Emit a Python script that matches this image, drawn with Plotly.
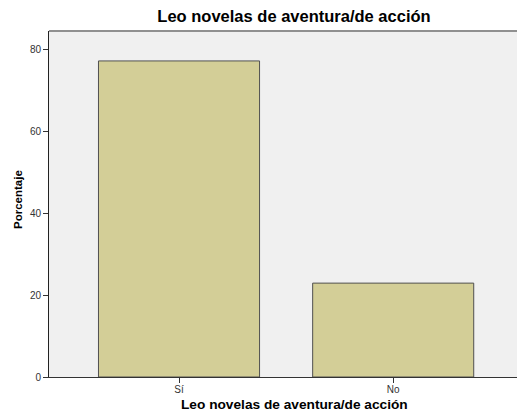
import plotly.graph_objects as go

categories = ["Sí", "No"]
values = [77.1, 22.9]
title_text = "Leo novelas de aventura/de acción"
y_title = "Porcentaje"
y_ticks = [0, 20, 40, 60, 80]

W, H = 517, 411
ML, MR, MT, MB = 49, 0, 31, 34
PW, PH = W - ML - MR, H - MT - MB

fig = go.Figure()
fig.add_trace(go.Bar(
    x=list(range(len(categories))), y=values, width=0.752,
    marker=dict(color="#D3CE97", line=dict(color="#505050", width=1)),
    hoverinfo="skip",
))

fig.update_layout(
    template="none",
    width=W, height=H,
    margin=dict(l=ML, r=MR, t=MT, b=MB, autoexpand=False),
    paper_bgcolor="white", plot_bgcolor="#F0F0F0",
    showlegend=False,
    font=dict(family="Liberation Sans, Arial, sans-serif", color="#333333"),
    title=dict(text="<b>" + title_text + "</b>", x=294 / W, xanchor="center",
               y=1 - 16 / H, yanchor="middle",
               font=dict(size=16.5, color="black")),
)
fig.update_xaxes(
    automargin=False,
    range=[-0.607, 1.578], tickmode="array",
    tickvals=list(range(len(categories))), ticktext=categories,
    ticks="outside", ticklen=5, tickcolor="#333333", tickwidth=1,
    ticklabelstandoff=-2,
    showline=True, linecolor="#333333", linewidth=1,
    showgrid=False, zeroline=False,
    tickfont=dict(size=10, color="#333333"),
)
fig.update_yaxes(
    automargin=False,
    range=[0, 84.4], tickmode="array", tickvals=y_ticks,
    ticks="outside", ticklen=5, tickcolor="#333333", tickwidth=1,
    showline=True, linecolor="#222222", linewidth=1,
    showgrid=False, zeroline=False,
    tickfont=dict(size=10, color="#333333"),
)
fig.add_annotation(text="<b>" + title_text + "</b>", xref="paper", yref="paper",
                   x=(294 - ML) / PW, y=-(404 - MT - PH) / PH,
                   xanchor="center", yanchor="middle", showarrow=False,
                   font=dict(size=13.7, color="black"))
fig.add_annotation(text="<b>" + y_title + "</b>", xref="paper", yref="paper",
                   x=(18 - ML) / PW, y=1 - (200 - MT) / PH, textangle=-90,
                   xanchor="center", yanchor="middle", showarrow=False,
                   font=dict(size=11.5, color="black"))
fig.add_shape(type="line", xref="paper", yref="paper", x0=0, x1=1, y0=1, y1=1,
              line=dict(color="#909090", width=2))

fig.write_html("out.html", config={"displayModeBar": False},
               post_script="document.body.style.margin='0';")
